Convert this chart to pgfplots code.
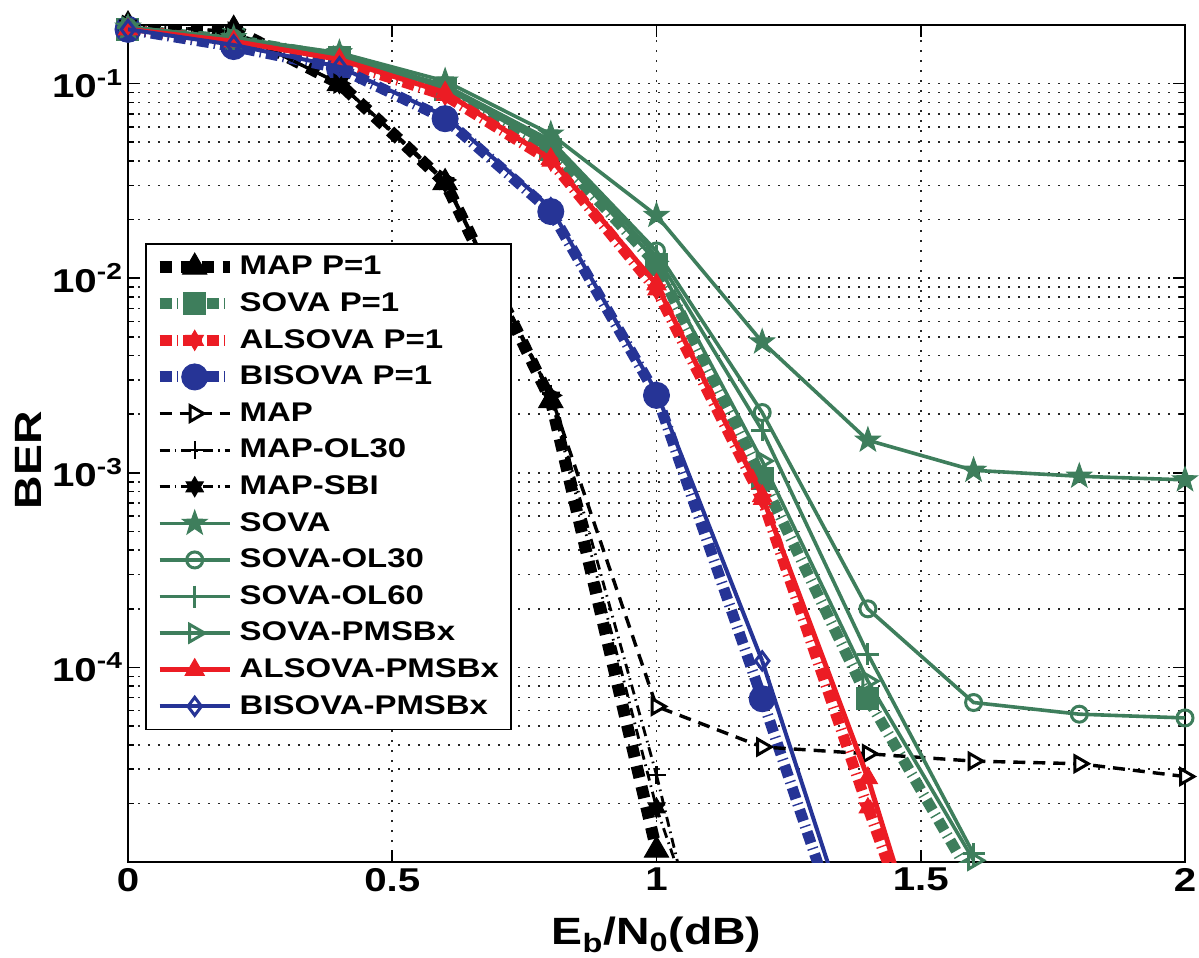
\documentclass[border=0pt]{standalone}
\usepackage{fontspec}
\setmainfont{Liberation Sans}[FakeStretch=1.22]
\usepackage{pgfplots}
\pgfplotsset{compat=1.18}
\usetikzlibrary{plotmarks}

\definecolor{sgreen}{RGB}{62,126,92}
\definecolor{sred}{RGB}{236,28,36}
\definecolor{sblue}{RGB}{38,52,150}

\pgfdeclareplotmark{pentagram*}{%
  \pgfpathmoveto{\pgfpointpolar{90}{\pgfplotmarksize}}%
  \pgfpathlineto{\pgfpointpolar{126}{0.4*\pgfplotmarksize}}%
  \pgfpathlineto{\pgfpointpolar{162}{\pgfplotmarksize}}%
  \pgfpathlineto{\pgfpointpolar{198}{0.4*\pgfplotmarksize}}%
  \pgfpathlineto{\pgfpointpolar{234}{\pgfplotmarksize}}%
  \pgfpathlineto{\pgfpointpolar{270}{0.4*\pgfplotmarksize}}%
  \pgfpathlineto{\pgfpointpolar{306}{\pgfplotmarksize}}%
  \pgfpathlineto{\pgfpointpolar{342}{0.4*\pgfplotmarksize}}%
  \pgfpathlineto{\pgfpointpolar{18}{\pgfplotmarksize}}%
  \pgfpathlineto{\pgfpointpolar{54}{0.4*\pgfplotmarksize}}%
  \pgfpathclose
  \pgfusepathqfillstroke
}
\pgfdeclareplotmark{hexagram*}{%
  \pgfpathmoveto{\pgfpointpolar{90}{\pgfplotmarksize}}%
  \pgfpathlineto{\pgfpointpolar{120}{0.577*\pgfplotmarksize}}%
  \pgfpathlineto{\pgfpointpolar{150}{\pgfplotmarksize}}%
  \pgfpathlineto{\pgfpointpolar{180}{0.577*\pgfplotmarksize}}%
  \pgfpathlineto{\pgfpointpolar{210}{\pgfplotmarksize}}%
  \pgfpathlineto{\pgfpointpolar{240}{0.577*\pgfplotmarksize}}%
  \pgfpathlineto{\pgfpointpolar{270}{\pgfplotmarksize}}%
  \pgfpathlineto{\pgfpointpolar{300}{0.577*\pgfplotmarksize}}%
  \pgfpathlineto{\pgfpointpolar{330}{\pgfplotmarksize}}%
  \pgfpathlineto{\pgfpointpolar{0}{0.577*\pgfplotmarksize}}%
  \pgfpathlineto{\pgfpointpolar{30}{\pgfplotmarksize}}%
  \pgfpathlineto{\pgfpointpolar{60}{0.577*\pgfplotmarksize}}%
  \pgfpathclose
  \pgfusepathqfillstroke
}

\pgfplotsset{
  pone/.style={line width=5.5pt, dash pattern=on 6pt off 2.5pt on 0.7pt off 2.5pt},
  mapdd/.style={black, line width=1.4pt, dash pattern=on 5pt off 2.5pt on 0.8pt off 2.5pt},
  thin/.style={line width=1.8pt},
}

\begin{document}
\begin{tikzpicture}
\useasboundingbox (-64pt,-48pt) rectangle (535.5pt,431pt);
\begin{axis}[
  at={(0,0)}, anchor=south west,
  scale only axis, width=528.5pt, height=418.5pt,
  xmin=0, xmax=2, ymode=log, ymin=1e-5, ymax=0.2,
  xtick={0,0.5,1,1.5,2}, xticklabels={0,0.5,1,1.5,2},
  ytick={1e-4,1e-3,1e-2,1e-1},
  yticklabels={10\textsuperscript{-4},10\textsuperscript{-3},10\textsuperscript{-2},10\textsuperscript{-1}},
  minor ytick={2e-5,3e-5,4e-5,5e-5,6e-5,7e-5,8e-5,9e-5,2e-4,3e-4,4e-4,5e-4,6e-4,7e-4,8e-4,9e-4,2e-3,3e-3,4e-3,5e-3,6e-3,7e-3,8e-3,9e-3,2e-2,3e-2,4e-2,5e-2,6e-2,7e-2,8e-2,9e-2},
  grid=both,
  major grid style={black!85, line width=0.8pt, dash pattern=on 0.8pt off 4.2pt},
  minor grid style={black!85, line width=0.8pt, dash pattern=on 0.8pt off 4.2pt},
  tick align=inside, xtick pos=both, ytick pos=both,
  major tick length=6pt, minor tick length=3pt,
  tick style={black, line width=0.8pt},
  axis line style={line width=1pt},
  ticklabel style={font=\fontsize{16.5}{18}\selectfont\bfseries},
  xticklabel style={yshift=0.5pt},
  yticklabel style={xshift=1pt},
  xlabel={E\textsubscript{b}/N\textsubscript{0}(dB)},
  ylabel={BER},
  label style={font=\fontsize{19}{22}\selectfont\bfseries},
  xlabel style={at={(axis description cs:0.5,-0.087)}, anchor=center},
  ylabel style={at={(axis description cs:-0.0946,0.48)}, anchor=center},
  clip mode=individual,
  legend style={at={(rel axis cs:0.016,0.7395)}, anchor=north west, draw=black, line width=0.8pt, fill=white,
    font=\fontsize{13.5}{16}\selectfont\bfseries, inner xsep=4pt, inner ysep=2.5pt, row sep=0pt,
    nodes={inner sep=2pt, text height=11pt, text depth=3.3pt}},
  legend cell align=left,
  legend image code/.code={\draw[mark repeat=2,mark phase=2,#1] plot coordinates {(0pt,0pt) (17.5pt,0pt) (35pt,0pt)};},
]
% tails below the bottom of the axis (no markers)
\addplot[forget plot, sblue, pone] coordinates {(1.2,6.9e-5) (1.4,1.7e-6)};
\addplot[forget plot, sblue, line width=2pt] coordinates {(1.2,1.08e-4) (1.4,2.3e-6)};
\addplot[forget plot, sred, pone] coordinates {(1.4,1.9e-5) (1.6,5.8e-7)};
\addplot[forget plot, sred, line width=2.5pt] coordinates {(1.4,2.7e-5) (1.6,4.7e-7)};
\addplot[forget plot, sgreen, pone] coordinates {(1.4,6.9e-5) (1.6,8e-6)};
\addplot[forget plot, mapdd] coordinates {(1.0,2.8e-5) (1.2,1.6e-7)};
\addplot[forget plot, mapdd] coordinates {(1.0,1.9e-5) (1.2,5e-7)};

% MAP P=1
\addplot[black, line width=6pt, dash pattern=on 6pt off 4.5pt, mark=triangle*, mark size=7pt, mark options={solid, line width=0.5pt, fill=black}]
  coordinates {(0,0.2) (0.2,0.19) (0.4,0.10) (0.6,0.031) (0.8,2.35e-3) (1.0,1.15e-5)};
\addlegendentry{MAP P=1}
% SOVA P=1
\addplot[sgreen, pone, mark=square*, mark size=5.5pt, mark options={solid, line width=0.5pt, fill=sgreen}]
  coordinates {(0,0.19) (0.2,0.168) (0.4,0.136) (0.6,0.093) (0.8,0.046) (1.0,0.0118) (1.2,9.3e-4) (1.4,6.9e-5)};
\addlegendentry{SOVA P=1}
% ALSOVA P=1
\addplot[sred, pone, mark=hexagram*, mark size=5pt, mark options={solid, line width=0.5pt, fill=sred}]
  coordinates {(0,0.19) (0.2,0.163) (0.4,0.13) (0.6,0.087) (0.8,0.040) (1.0,8.7e-3) (1.2,7.3e-4) (1.4,1.9e-5)};
\addlegendentry{ALSOVA P=1}
% BISOVA P=1
\addplot[sblue, pone, mark=*, mark size=6.5pt, mark options={solid, line width=0.5pt, fill=sblue}]
  coordinates {(0,0.19) (0.2,0.155) (0.4,0.12) (0.6,0.066) (0.8,0.022) (1.0,2.5e-3) (1.2,6.9e-5)};
\addlegendentry{BISOVA P=1}
% MAP
\addplot[black, line width=1.7pt, dash pattern=on 6pt off 4pt, mark=triangle*, mark size=4.5pt, mark options={solid, rotate=-90, fill=white, line width=1.5pt}]
  coordinates {(0,0.2) (0.2,0.185) (0.4,0.10) (0.6,0.032) (0.8,2.5e-3) (1.0,6.3e-5) (1.2,3.9e-5) (1.4,3.6e-5) (1.6,3.3e-5) (1.8,3.2e-5) (2.0,2.75e-5)};
\addlegendentry{MAP}
% MAP-OL30
\addplot[mapdd, mark=+, mark size=4.5pt, mark options={solid, line width=1.2pt}]
  coordinates {(0,0.2) (0.2,0.185) (0.4,0.10) (0.6,0.032) (0.8,2.55e-3) (1.0,2.8e-5)};
\addlegendentry{MAP-OL30}
% MAP-SBI
\addplot[mapdd, mark=hexagram*, mark size=5pt, mark options={solid, line width=0.5pt, fill=black}]
  coordinates {(0,0.2) (0.2,0.185) (0.4,0.10) (0.6,0.031) (0.8,2.45e-3) (1.0,1.9e-5)};
\addlegendentry{MAP-SBI}
% SOVA
\addplot[sgreen, thin, mark=pentagram*, mark size=6.5pt, mark options={line width=0.5pt, fill=sgreen}]
  coordinates {(0,0.195) (0.2,0.172) (0.4,0.144) (0.6,0.103) (0.8,0.055) (1.0,0.021) (1.2,4.7e-3) (1.4,1.47e-3) (1.6,1.03e-3) (1.8,9.6e-4) (2.0,9.2e-4)};
\addlegendentry{SOVA}
% SOVA-OL30
\addplot[sgreen, thin, mark=o, mark size=4pt, mark options={line width=1.5pt}]
  coordinates {(0,0.195) (0.2,0.171) (0.4,0.141) (0.6,0.098) (0.8,0.051) (1.0,0.0138) (1.2,2.04e-3) (1.4,2.0e-4) (1.6,6.6e-5) (1.8,5.75e-5) (2.0,5.5e-5)};
\addlegendentry{SOVA-OL30}
% SOVA-OL60
\addplot[sgreen, thin, mark=+, mark size=5.5pt, mark options={line width=1.5pt}]
  coordinates {(0,0.195) (0.2,0.17) (0.4,0.14) (0.6,0.097) (0.8,0.049) (1.0,0.013) (1.2,1.65e-3) (1.4,1.17e-4) (1.6,1.1e-5)};
\addlegendentry{SOVA-OL60}
% SOVA-PMSBx
\addplot[sgreen, thin, mark=triangle, mark size=5pt, mark options={rotate=-90, line width=1.5pt}]
  coordinates {(0,0.195) (0.2,0.17) (0.4,0.138) (0.6,0.095) (0.8,0.047) (1.0,0.0122) (1.2,1.15e-3) (1.4,8.5e-5) (1.6,1.02e-5)};
\addlegendentry{SOVA-PMSBx}
% ALSOVA-PMSBx
\addplot[sred, line width=2.5pt, mark=triangle*, mark size=5.5pt, mark options={line width=0.5pt, fill=sred}]
  coordinates {(0,0.19) (0.2,0.165) (0.4,0.133) (0.6,0.09) (0.8,0.041) (1.0,9.3e-3) (1.2,7.6e-4) (1.4,2.7e-5)};
\addlegendentry{ALSOVA-PMSBx}
% BISOVA-PMSBx
\addplot[sblue, line width=2pt, mark=diamond, mark size=4.5pt, mark options={line width=1.5pt}]
  coordinates {(0,0.19) (0.2,0.158) (0.4,0.122) (0.6,0.068) (0.8,0.023) (1.0,2.6e-3) (1.2,1.08e-4)};
\addlegendentry{BISOVA-PMSBx}
\end{axis}
\end{tikzpicture}
\end{document}
